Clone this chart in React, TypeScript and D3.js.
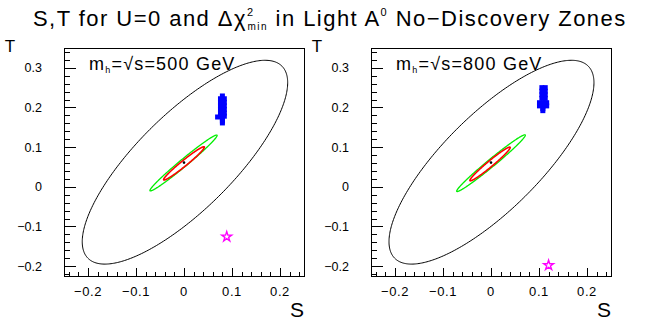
import * as d3 from "d3";
import { useEffect, useRef } from "react";

// Axis ticks
const sTicks = [-0.2, -0.1, 0, 0.1, 0.2];
const tTicks = [-0.2, -0.1, 0, 0.1, 0.2, 0.3];

// Panels (Higgs mass = sqrt(s))
const panelEnergies = ["500", "800"];

// Ellipses per panel: [outer, green, red]
const ellipseCS = [[0.002, -0.001, 0.0], [0.001, 0.0, -0.002]];
const ellipseCT = [[0.062, 0.060, 0.059], [0.062, 0.0595, 0.0575]];
const ellipseSS = [[0.214, 0.070, 0.0425], [0.2135, 0.0715, 0.042]];
const ellipseST = [[0.257, 0.0705, 0.042], [0.257, 0.0715, 0.0425]];
const ellipseRho = [[0.78, 0.985, 0.975], [0.78, 0.985, 0.975]];

// Best fit point
const centerS = [0.0, 0.0];
const centerT = [0.061, 0.061];

// No-discovery zone points
const blobS500 = [0.080, 0.076, 0.084, 0.076, 0.084, 0.076, 0.084, 0.076, 0.084, 0.076, 0.084, 0.076, 0.084, 0.070, 0.080, 0.080, 0.080];
const blobT500 = [0.229, 0.222, 0.222, 0.213, 0.213, 0.204, 0.204, 0.195, 0.195, 0.186, 0.186, 0.178, 0.178, 0.176, 0.172, 0.166, 0.161];
const blobS800 = [0.106, 0.113, 0.106, 0.113, 0.106, 0.113, 0.106, 0.113, 0.101, 0.109, 0.116, 0.101, 0.109, 0.116, 0.108, 0.108];
const blobT800 = [0.250, 0.250, 0.241, 0.241, 0.232, 0.232, 0.223, 0.223, 0.212, 0.212, 0.212, 0.204, 0.204, 0.204, 0.197, 0.192];

// Star markers
const starS = [0.089, 0.120];
const starT = [-0.126, -0.198];

const font = "'Liberation Sans', Arial, sans-serif";

const drawChart = (el: SVGSVGElement) => {
  const svg = d3.select(el);
  svg.selectAll("*").remove();

  svg.append("rect").attr("width", 654).attr("height", 327).attr("fill", "#fff");

  // Title
  const title = svg.append("text")
    .attr("x", 33).attr("y", 26)
    .attr("font-family", font).attr("font-size", 22)
    .attr("letter-spacing", 1.45)
    .attr("fill", "#000");
  title.append("tspan").text("S,T for U=0 and \u0394\u03c7");
  title.append("tspan").attr("font-size", 11).attr("dy", -10).text("2");
  title.append("tspan").attr("font-size", 10).attr("dx", -7).attr("dy", 14).text("min");
  title.append("tspan").attr("dy", -4).text(" in Light A");
  title.append("tspan").attr("font-size", 11).attr("dy", -10).text("0");
  title.append("tspan").attr("dy", 10).text(" No\u2212Discovery Zones");

  const frameLefts = [64, 371];
  const frameW = 240;
  const top = 48;
  const bottom = 276;

  panelEnergies.forEach((energy, p) => {
    const left = frameLefts[p];
    const x = d3.scaleLinear().domain([-0.25, 0.25]).range([left, left + frameW]);
    const y = d3.scaleLinear().domain([-0.225, 0.35]).range([bottom, top]);
    const g = svg.append("g");

    // Frame
    g.append("rect")
      .attr("x", left + 0.5).attr("y", top + 0.5)
      .attr("width", frameW).attr("height", bottom - top)
      .attr("fill", "none").attr("stroke", "#000").attr("stroke-width", 1);

    // Ticks
    const isMajor = (v: number, list: number[]) => list.some(m => Math.abs(m - v) < 1e-6);
    x.ticks(25).forEach(v => {
      const len = isMajor(v, sTicks) ? 8 : 4;
      g.append("line")
        .attr("x1", Math.round(x(v)) + 0.5).attr("x2", Math.round(x(v)) + 0.5)
        .attr("y1", bottom).attr("y2", bottom - len)
        .attr("stroke", "#000");
    });
    y.ticks(29).forEach(v => {
      const len = isMajor(v, tTicks) ? 12 : 6;
      g.append("line")
        .attr("y1", Math.round(y(v)) + 0.5).attr("y2", Math.round(y(v)) + 0.5)
        .attr("x1", left).attr("x2", left + len)
        .attr("stroke", "#000");
    });

    const fmt = (v: number) => (v < 0 ? "\u2212" : "") + d3.format("")(Math.abs(v));
    sTicks.forEach(v => {
      g.append("text")
        .attr("x", x(v)).attr("y", 296)
        .attr("text-anchor", "middle")
        .attr("font-family", font).attr("font-size", 13)
        .attr("letter-spacing", 0.6)
        .text(fmt(v));
    });
    tTicks.forEach(v => {
      g.append("text")
        .attr("x", left - 22).attr("y", y(v) + 4.5)
        .attr("text-anchor", "end")
        .attr("font-family", font).attr("font-size", 12.5)
        .text(fmt(v));
    });

    // Axis titles
    g.append("text")
      .attr("x", left + 233).attr("y", 317)
      .attr("text-anchor", "middle")
      .attr("font-family", font).attr("font-size", 21)
      .text("S");
    g.append("text")
      .attr("x", left - 54).attr("y", 52)
      .attr("text-anchor", "middle")
      .attr("font-family", font).attr("font-size", 17)
      .text("T");

    // Panel label
    const lab = g.append("text")
      .attr("x", left + 25).attr("y", 70)
      .attr("font-family", font).attr("font-size", 18)
      .attr("letter-spacing", 1.2);
    lab.append("tspan").text("m");
    lab.append("tspan").attr("font-size", 9).attr("dy", 3).text("h");
    lab.append("tspan").attr("dy", -3).text("=\u221as=" + energy + " GeV");

    // Ellipses
    const line = d3.line<[number, number]>()
      .x(d => x(d[0])).y(d => y(d[1]))
      .curve(d3.curveLinearClosed);
    const colors = ["#000000", "#00ee00", "#ff0000"];
    const widths = [1, 1.3, 1.6];
    [0, 1, 2].forEach(k => {
      const phi = Math.acos(ellipseRho[p][k]);
      const pts: [number, number][] = d3.range(0, 2 * Math.PI, Math.PI / 180).map(a => [
        ellipseCS[p][k] + ellipseSS[p][k] * Math.cos(a),
        ellipseCT[p][k] + ellipseST[p][k] * Math.cos(a + phi),
      ]);
      g.append("path")
        .attr("d", line(pts))
        .attr("fill", "none")
        .attr("stroke", colors[k])
        .attr("stroke-width", widths[k]);
    });

    // Best fit marker
    g.append("circle")
      .attr("cx", x(centerS[p])).attr("cy", y(centerT[p]))
      .attr("r", 1.3).attr("fill", "#000");

    // Blue no-discovery points
    const bs = p === 0 ? blobS500 : blobS800;
    const bt = p === 0 ? blobT500 : blobT800;
    bs.forEach((s, i) => {
      g.append("rect")
        .attr("x", x(s) - 2.5).attr("y", y(bt[i]) - 2.5)
        .attr("width", 5).attr("height", 5)
        .attr("fill", "#0000ff");
    });

    // Star
    g.append("path")
      .attr("d", d3.symbol(d3.symbolStar, 30)())
      .attr("transform", `translate(${x(starS[p])},${y(starT[p])})`)
      .attr("fill", "none")
      .attr("stroke", "#ff00ff")
      .attr("stroke-width", 1.4);
  });
};

export default function App() {
  const ref = useRef<SVGSVGElement>(null);
  useEffect(() => {
    if (ref.current) drawChart(ref.current);
  }, []);
  return (
    <svg ref={ref} width={654} height={327}
      style={{ position: "absolute", left: 0, top: 0, display: "block" }} />
  );
}
